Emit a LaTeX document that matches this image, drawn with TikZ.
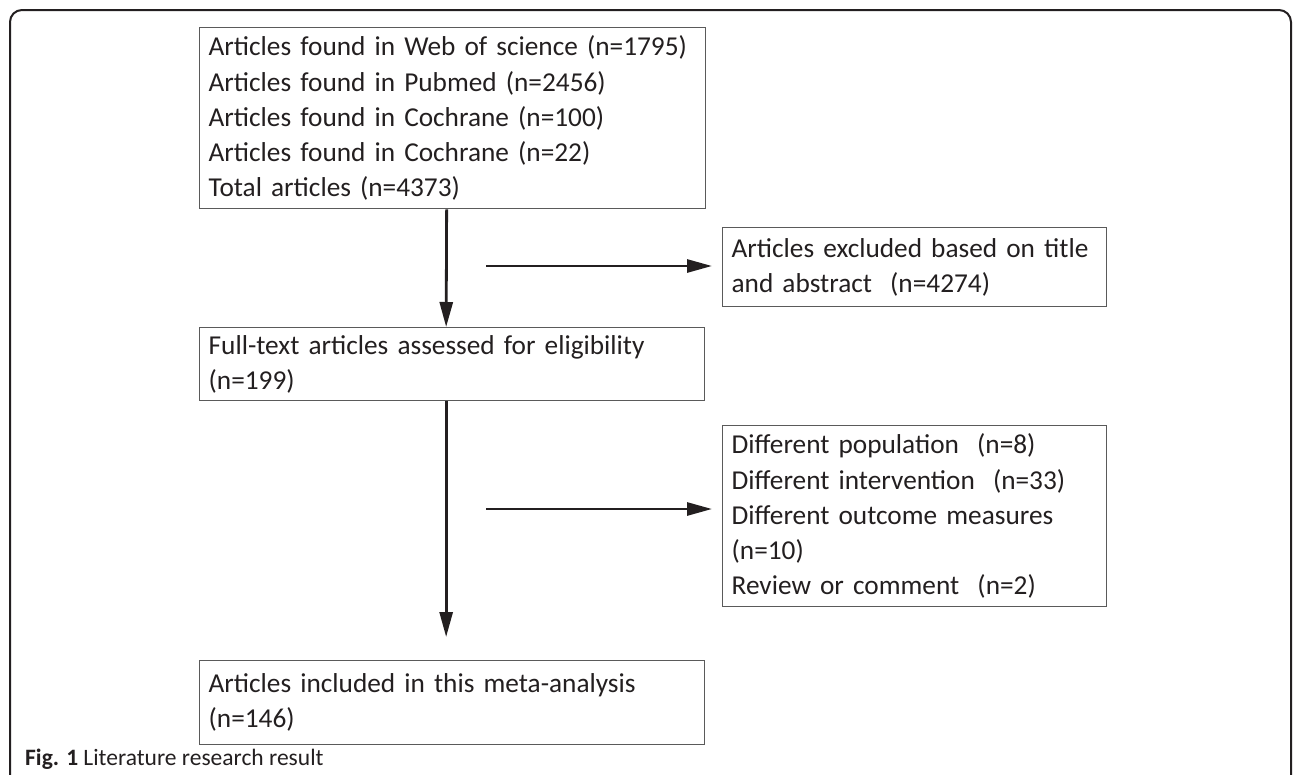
\documentclass[tikz,border=0pt]{standalone}
\usepackage{fontspec}
\setmainfont{Carlito}
\usetikzlibrary{arrows.meta}
\definecolor{ink}{HTML}{231F20}
\definecolor{edge}{HTML}{5A5A5A}
\hbadness=10000 \hfuzz=100pt
\begin{document}
\begin{tikzpicture}[x=1pt,y=-1pt,
  box/.style={draw=edge, line width=1.3pt, anchor=north west, inner xsep=9pt, inner ysep=0pt,
    align=left, text=ink, font=\fontsize{27.3}{35.2}\selectfont},
  arr/.style={draw=ink, line width=2.8pt, -{Triangle[length=25pt,width=13pt]}},
  frame/.style={draw=ink, line width=2pt, rounded corners=12pt},
  caption/.style={anchor=base west, text=ink, inner sep=0pt, font=\fontsize{23.5}{27}\selectfont}
]
\useasboundingbox (0,0) rectangle (1293,774);
\draw[frame] (10,800) -- (10,10) -- (1291,10) -- (1291,800);

\node[box, text width=488pt, minimum height=181pt] (b1) at (199,27)
  {\mbox{Articles found in Web of science (n=1795)}\\
   \mbox{Articles found in Pubmed (n=2456)}\\
   \mbox{Articles found in Cochrane (n=100)}\\
   \mbox{Articles found in Cochrane (n=22)}\\
   \mbox{Total articles (n=4373)}};
\node[box, text width=366pt, minimum height=79pt] (b2) at (722,227)
  {\mbox{Articles excluded based on title}\\
   \mbox{and abstract\ \ (n=4274)}};
\node[box, text width=487pt, minimum height=73pt] (b3) at (199,327)
  {\mbox{Full-text articles assessed for eligibility}\\
   \mbox{(n=199)}};
\node[box, text width=366pt, minimum height=181pt] (b4) at (722,425)
  {\mbox{Different population\ \ (n=8)}\\
   \mbox{Different intervention\ \ (n=33)}\\
   \mbox{Different outcome measures}\\
   \mbox{(n=10)}\\
   \mbox{Review or comment\ \ (n=2)}};
\node[box, text width=487pt, minimum height=84pt] (b5) at (199,660)
  {\mbox{Articles included in this meta-analysis}\\
   \mbox{(n=146)}};

\draw[arr] ([xshift=-6pt]b1.south) -- ([xshift=-6pt]b3.north);
\coordinate (s1) at (486,266);
\draw[arr, shorten >=10pt] (s1) -- (s1 -| b2.west);
\coordinate (s2) at (486,509);
\draw[arr, shorten >=10pt] (s2) -- (s2 -| b4.west);
\draw[arr, shorten >=23pt] ([xshift=-6pt]b3.south) -- ([xshift=-6pt]b5.north);

\node[caption] (cap) at (25,765) {\textbf{Fig. 1} Literature research result};
\end{tikzpicture}
\end{document}
